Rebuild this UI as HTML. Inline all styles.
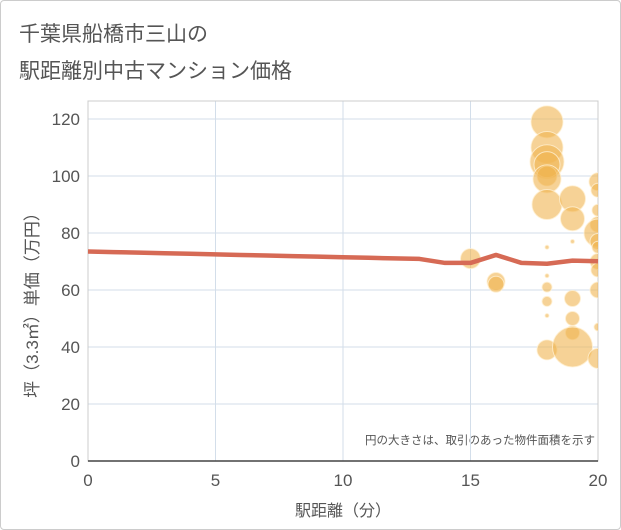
<!DOCTYPE html>
<html><head><meta charset="utf-8"><style>
body{margin:0;background:#fff;font-family:"Liberation Sans","Noto Sans CJK JP",sans-serif}
#c{position:relative;width:621px;height:530px;box-sizing:border-box;border:1px solid #ccc;border-radius:4px;overflow:hidden}
</style></head><body>
<div id="c">
<svg id="s" width="621" height="530">
<text x="18" y="40" font-size="21" fill="#555">千葉県船橋市三山の</text>
<text x="18" y="77" font-size="21" fill="#555">駅距離別中古マンション価格</text>
<text x="342" y="515" font-size="16" fill="#555" text-anchor="middle">駅距離（分）</text>
<text transform="translate(37,300) rotate(-90)" font-size="17" fill="#555" text-anchor="middle">坪（3.3㎡）単価（万円）</text>
<text x="594" y="443" font-size="11.5" fill="#555" text-anchor="end">円の大きさは、取引のあった物件面積を示す</text>
</svg>
</div>
<script>
const xTicks=[0,5,10,15,20];
const yTicks=[0,20,40,60,80,100,120];
const lineX=[0,1,2,3,4,5,6,7,8,9,10,11,12,13,14,15,16,17,18,19,20];
const lineY=[73.5,73.3,73.1,72.9,72.7,72.5,72.3,72.1,71.9,71.7,71.5,71.3,71.1,70.9,69.5,69.5,72.3,69.5,69.2,70.3,70.1];
const bubX=[15,16,16,18,18,18,18,18,18,18,18,18,18,18,18,18,19,19,19,19,19,19,19,20,20,20,20,20,20,20,20,20,20,20,20];
const bubY=[71,63,62,119,110,105,104,100,99,90,75,65,61,56,51,39,92,85,77,57,50,45,40,98,95,88,83,80,77,75,70,67,60,47,36];
const bubR=[10,9,8,16,16,17,13,10,14,15,2,2,5,5,2,10,13,12,2,8,7,7,20,9,7,6,8,14,8,6,8,7,8,4,10];
const X0=87,X1=597,Y0=460,Y1=118;
const sx=v=>X0+(X1-X0)*v/20, sy=v=>Y0-(Y0-Y1)*v/120;
const s=document.getElementById('s'),NS='http://www.w3.org/2000/svg';
function mk(t,a,p){const e=document.createElementNS(NS,t);for(const k in a)e.setAttribute(k,a[k]);(p||s).appendChild(e);return e;}
const cp=mk('clipPath',{id:'cp'});mk('rect',{x:X0,y:100,width:X1-X0,height:Y0-100},cp);
xTicks.forEach(v=>{const l=mk('line',{x1:sx(v),x2:sx(v),y1:100,y2:Y0,stroke:'#d3deea','stroke-width':1});

const t=mk('text',{x:sx(v),y:485,'font-size':17,fill:'#555','text-anchor':'middle'});t.textContent=v;
});
yTicks.forEach(v=>{const l=mk('line',{x1:X0,x2:X1,y1:sy(v),y2:sy(v),stroke:'#d3deea','stroke-width':1});

const t=mk('text',{x:79,y:sy(v)+6,'font-size':17,fill:'#555','text-anchor':'end'});t.textContent=v;
});
const fr=mk('rect',{x:X0,y:100,width:X1-X0,height:Y0-100,fill:'none',stroke:'#ccc'});

const ax=mk('line',{x1:X0,x2:X1,y1:Y0,y2:Y0,stroke:'#444','stroke-width':1.5});

const g=mk('g',{'clip-path':'url(#cp)'});

bubX.forEach((v,i)=>{const c=mk('circle',{cx:sx(v),cy:sy(bubY[i]),r:bubR[i],fill:'rgba(240,180,80,0.6)',stroke:'rgba(255,240,210,0.8)','stroke-width':1},g);
});
const pl=mk('polyline',{points:lineX.map((v,i)=>sx(v)+','+sy(lineY[i])).join(' '),fill:'none',stroke:'#d66a55','stroke-width':4.5,'stroke-linejoin':'round'});

</script>
</body></html>
